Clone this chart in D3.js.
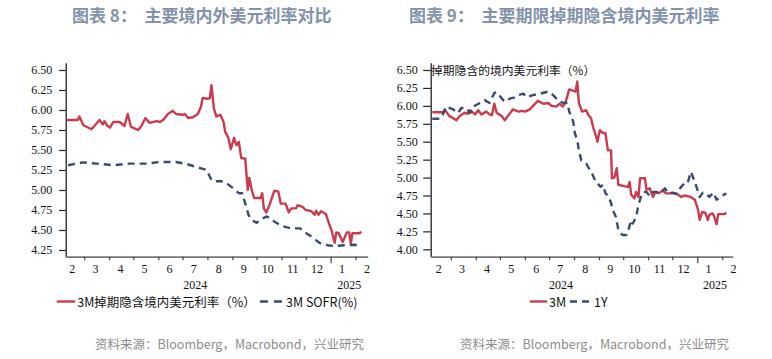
<!DOCTYPE html>
<html><head><meta charset="utf-8">
<script src="https://cdn.jsdelivr.net/npm/d3@7"></script>
<style>body{margin:0;background:#fff}svg{display:block}</style>
</head><body>
<svg id="c" width="772" height="359"></svg>
<script>
// ---------- DATA ----------
const monthLabels = ["2","3","4","5","6","7","8","9","10","11","12","1","2"];
const yearLabels = ["2024","2025"];
const yTicksLeft = [6.50,6.25,6.00,5.75,5.50,5.25,5.00,4.75,4.50,4.25];
const yTicksRight = [6.50,6.25,6.00,5.75,5.50,5.25,5.00,4.75,4.50,4.25,4.00];

const leftSeriesNames = ["3M掉期隐含境内美元利率（%）","3M SOFR(%)"];
const rightSeriesNames = ["3M","1Y"];

// 3M swap-implied onshore USD rate (left chart)
const implied3M = [
 ["2024-02-08",5.875],["2024-02-22",5.875],["2024-02-24",5.92],["2024-02-29",5.81],["2024-03-10",5.76],
 ["2024-03-20",5.875],["2024-03-24",5.82],["2024-03-26",5.86],["2024-03-30",5.80],["2024-04-02",5.78],
 ["2024-04-06",5.85],["2024-04-14",5.85],["2024-04-20",5.80],["2024-04-24",5.95],["2024-04-28",5.79],
 ["2024-05-07",5.75],["2024-05-11",5.80],["2024-05-16",5.90],["2024-05-21",5.84],["2024-05-30",5.86],
 ["2024-06-03",5.85],["2024-06-07",5.875],["2024-06-13",5.95],["2024-06-19",5.99],["2024-06-23",5.95],
 ["2024-07-01",5.94],["2024-07-04",5.95],["2024-07-08",5.90],["2024-07-14",5.91],["2024-07-20",5.95],
 ["2024-07-24",6.04],["2024-07-26",6.15],["2024-08-01",6.14],["2024-08-04",6.15],["2024-08-06",6.31],
 ["2024-08-09",6.02],["2024-08-12",5.92],["2024-08-17",5.94],["2024-08-21",5.85],["2024-08-23",5.73],
 ["2024-08-27",5.65],["2024-08-30",5.51],["2024-09-03",5.65],["2024-09-06",5.56],["2024-09-09",5.60],
 ["2024-09-12",5.40],["2024-09-17",5.39],["2024-09-20",5.00],["2024-09-22",5.15],["2024-09-25",5.00],
 ["2024-09-28",4.90],["2024-10-06",4.90],["2024-10-08",4.96],["2024-10-10",4.77],["2024-10-13",4.72],
 ["2024-10-17",4.81],["2024-10-23",4.99],["2024-10-28",4.98],["2024-10-31",4.83],["2024-11-06",4.83],
 ["2024-11-10",4.72],["2024-11-13",4.77],["2024-11-19",4.77],["2024-11-21",4.81],["2024-11-27",4.79],
 ["2024-12-01",4.75],["2024-12-08",4.735],["2024-12-12",4.69],["2024-12-14",4.74],["2024-12-17",4.69],
 ["2024-12-20",4.735],["2024-12-26",4.70],["2024-12-30",4.58],["2025-01-02",4.50],["2025-01-06",4.34],
 ["2025-01-08",4.47],["2025-01-11",4.46],["2025-01-16",4.35],["2025-01-21",4.47],["2025-01-24",4.47],
 ["2025-01-26",4.33],["2025-01-28",4.46],["2025-02-06",4.46],["2025-02-08",4.48]
];
// 3M SOFR (left chart)
const sofr3M = [
 ["2024-02-10",5.31],["2024-02-29",5.345],["2024-03-16",5.33],["2024-04-06",5.31],["2024-04-26",5.33],
 ["2024-05-17",5.33],["2024-06-03",5.35],["2024-06-23",5.35],["2024-07-06",5.325],["2024-07-14",5.30],
 ["2024-07-24",5.27],["2024-07-31",5.25],["2024-08-06",5.125],["2024-08-08",5.11],["2024-08-18",5.11],
 ["2024-08-26",5.075],["2024-09-01",5.03],["2024-09-09",4.96],["2024-09-13",4.96],["2024-09-17",4.83],
 ["2024-09-21",4.69],["2024-09-25",4.625],["2024-10-01",4.59],["2024-10-06",4.635],["2024-10-14",4.67],
 ["2024-10-24",4.60],["2024-11-01",4.55],["2024-11-13",4.52],["2024-11-24",4.52],["2024-11-30",4.47],
 ["2024-12-08",4.42],["2024-12-18",4.34],["2024-12-28",4.31],["2025-01-05",4.30],["2025-01-18",4.31],
 ["2025-01-28",4.315],["2025-02-06",4.31]
];
// 3M tenor (right chart)
const tenor3M = [
 ["2024-02-07",5.91],["2024-02-20",5.91],["2024-02-23",5.94],["2024-02-28",5.86],["2024-03-08",5.80],
 ["2024-03-12",5.86],["2024-03-18",5.905],["2024-03-22",5.89],["2024-03-25",5.94],["2024-03-31",5.88],
 ["2024-04-04",5.94],["2024-04-08",5.88],["2024-04-14",5.92],["2024-04-18",5.88],["2024-04-21",5.87],
 ["2024-04-24",6.03],["2024-04-27",5.90],["2024-05-03",5.86],["2024-05-07",5.80],["2024-05-11",5.86],
 ["2024-05-17",5.95],["2024-05-24",5.92],["2024-05-28",5.93],["2024-06-01",5.92],["2024-06-07",5.95],
 ["2024-06-11",6.00],["2024-06-17",6.07],["2024-06-24",6.03],["2024-06-30",6.04],["2024-07-04",6.00],
 ["2024-07-10",5.99],["2024-07-14",6.03],["2024-07-18",5.99],["2024-07-22",6.07],["2024-07-26",6.23],
 ["2024-08-03",6.20],["2024-08-05",6.34],["2024-08-07",6.04],["2024-08-11",5.92],["2024-08-16",5.94],
 ["2024-08-19",5.87],["2024-08-22",5.83],["2024-08-25",5.69],["2024-08-28",5.59],["2024-08-30",5.50],
 ["2024-09-02",5.66],["2024-09-06",5.62],["2024-09-09",5.62],["2024-09-12",5.38],["2024-09-16",5.38],
 ["2024-09-17",4.99],["2024-09-20",5.00],["2024-09-23",5.13],["2024-09-25",4.90],["2024-10-02",4.88],
 ["2024-10-07",4.87],["2024-10-09",4.94],["2024-10-11",4.76],["2024-10-15",4.71],["2024-10-17",4.80],
 ["2024-10-20",4.73],["2024-10-22",4.99],["2024-10-28",4.99],["2024-10-30",4.83],["2024-11-03",4.85],
 ["2024-11-07",4.73],["2024-11-10",4.80],["2024-11-14",4.78],["2024-11-19",4.82],["2024-11-23",4.78],
 ["2024-11-30",4.78],["2024-12-06",4.78],["2024-12-12",4.73],["2024-12-16",4.75],["2024-12-20",4.74],
 ["2024-12-24",4.73],["2024-12-29",4.69],["2025-01-02",4.55],["2025-01-04",4.41],["2025-01-07",4.52],
 ["2025-01-11",4.51],["2025-01-14",4.41],["2025-01-16",4.48],["2025-01-20",4.50],["2025-01-22",4.46],
 ["2025-01-25",4.35],["2025-01-27",4.49],["2025-02-04",4.49],["2025-02-06",4.51]
];
// 1Y tenor (right chart)
const tenor1Y = [
 ["2024-02-07",5.82],["2024-02-16",5.82],["2024-02-20",5.88],["2024-02-24",5.99],["2024-03-04",5.95],
 ["2024-03-10",5.90],["2024-03-14",5.97],["2024-03-20",5.97],["2024-03-25",5.90],["2024-03-29",5.99],
 ["2024-04-06",6.04],["2024-04-12",6.08],["2024-04-18",6.04],["2024-04-24",6.18],["2024-04-27",6.19],
 ["2024-05-05",6.08],["2024-05-09",6.06],["2024-05-13",6.10],["2024-05-20",6.12],["2024-05-24",6.15],
 ["2024-05-30",6.17],["2024-06-03",6.12],["2024-06-11",6.15],["2024-06-20",6.17],["2024-06-30",6.20],
 ["2024-07-06",6.15],["2024-07-14",6.06],["2024-07-19",6.04],["2024-07-24",6.04],["2024-07-26",5.92],
 ["2024-07-31",5.78],["2024-08-02",5.62],["2024-08-05",5.52],["2024-08-07",5.38],["2024-08-10",5.24],
 ["2024-08-16",5.20],["2024-08-20",5.12],["2024-08-24",5.04],["2024-08-28",4.94],["2024-08-30",4.92],
 ["2024-09-03",4.87],["2024-09-06",4.90],["2024-09-09",4.78],["2024-09-13",4.74],["2024-09-16",4.64],
 ["2024-09-18",4.55],["2024-09-22",4.45],["2024-09-25",4.27],["2024-09-30",4.20],["2024-10-05",4.20],
 ["2024-10-08",4.29],["2024-10-11",4.41],["2024-10-13",4.36],["2024-10-17",4.45],["2024-10-20",4.62],
 ["2024-10-23",4.73],["2024-10-26",4.80],["2024-10-30",4.80],["2024-11-03",4.74],["2024-11-07",4.80],
 ["2024-11-11",4.80],["2024-11-15",4.78],["2024-11-22",4.85],["2024-11-26",4.78],["2024-12-02",4.79],
 ["2024-12-06",4.77],["2024-12-12",4.87],["2024-12-16",4.92],["2024-12-20",4.92],["2024-12-24",5.08],
 ["2024-12-29",4.94],["2025-01-04",4.73],["2025-01-08",4.79],["2025-01-12",4.78],["2025-01-16",4.73],
 ["2025-01-21",4.79],["2025-01-25",4.69],["2025-01-31",4.74],["2025-02-06",4.78]
];

// ---------- DRAW ----------
const RED = "#cc3a4e", NAVY = "#3c4b6b";
const svg = d3.select("#c");
const parse = d3.timeParse("%Y-%m-%d");
const serif = "'Liberation Serif','Times New Roman',serif";
const cjk = "'Noto Sans CJK SC','Noto Sans',sans-serif";

function panel(o){
  const top = 62.7, bottom = 256.7;
  const x = d3.scaleTime().domain([parse(o.start), parse(o.end)]).range([o.x0, o.x0 + 302]);
  const y0 = d3.scaleLinear().domain([o.yMin, 6.5]).range([o.yMinPx, 70]);
  const y = d3.scaleLinear().domain([y0.invert(bottom), y0.invert(top)]).range([bottom, top]);
  const g = svg.append("g");

  // y axis
  const ya = d3.axisLeft(y).tickValues(o.yTicks).tickFormat(d3.format(".2f")).tickSize(o.tick).tickPadding(o.pad).tickSizeOuter(0);
  const yg = g.append("g").attr("transform", `translate(${o.x0},0)`).call(ya);
  yg.select(".domain").attr("stroke", "#222").attr("stroke-width", 1.3);
  yg.selectAll(".tick line").attr("stroke", "#222").attr("stroke-width", 1.2);
  yg.selectAll(".tick text").attr("font-family", serif).attr("font-size", 12).attr("fill", "#111");

  // x axis
  const months = d3.timeMonth.range(d3.timeMonth.ceil(x.domain()[0]), x.domain()[1]);
  const xa = d3.axisBottom(x).tickValues(months).tickFormat("").tickSize(3.5).tickSizeOuter(0);
  const xg = g.append("g").attr("transform", `translate(0,${bottom})`).call(xa);
  xg.select(".domain").attr("stroke", "#777").attr("stroke-width", 1.8);
  xg.selectAll(".tick line").attr("stroke", "#444").attr("stroke-width", 1.2)
    .attr("y2", d => d.getMonth() === 0 ? 6.5 : 3.5);

  // month labels at mid-month
  const mids = [d3.timeMonth.floor(x.domain()[0]), ...months].map(m => new Date(m.getFullYear(), m.getMonth(), 15));
  g.selectAll(".ml").data(mids).join("text")
    .attr("x", d => x(d)).attr("y", 272.5).attr("text-anchor", "middle")
    .attr("font-family", serif).attr("font-size", 12).attr("fill", "#111")
    .text((d, i) => monthLabels[i]);

  // year labels
  const yb = new Date(2025, 0, 1);
  const yPos = [(x.range()[0] + x(yb)) / 2 - 3, (x(yb) + x.range()[1]) / 2];
  g.selectAll(".yl").data(yearLabels).join("text")
    .attr("x", (d, i) => yPos[i]).attr("y", 289).attr("text-anchor", "middle")
    .attr("font-family", serif).attr("font-size", 12).attr("fill", "#111").text(d => d);

  // lines
  const line = d3.line().x(d => x(parse(d[0]))).y(d => y(d[1]));
  o.series.forEach(s => {
    g.append("path").datum(s.data).attr("d", line).attr("fill", "none")
      .attr("stroke", s.color).attr("stroke-width", 2.4).attr("stroke-linejoin", "round")
      .attr("stroke-dasharray", s.dash || null);
  });

  // legend
  o.legend.forEach(l => {
    g.append("line").attr("x1", l.x).attr("x2", l.x + l.w).attr("y1", 301.5).attr("y2", 301.5)
      .attr("stroke", l.color).attr("stroke-width", 2.4).attr("stroke-dasharray", l.dash || null);
    g.append("text").attr("x", l.x + l.w + 2).attr("y", 306.5)
      .attr("font-family", cjk).attr("font-size", 12.5).attr("fill", "#111").text(l.text);
  });
  return g;
}

panel({
  x0: 65.7, start: "2024-02-07", end: "2025-02-16",
  yMin: 4.25, yMinPx: 250, yTicks: yTicksLeft, tick: 6.5, pad: 7,
  series: [{data: implied3M, color: RED}, {data: sofr3M, color: NAVY, dash: "7,5"}],
  legend: [{x: 56.7, w: 18.5, color: RED, text: leftSeriesNames[0]},
           {x: 260, w: 24, color: NAVY, dash: "8,6", text: leftSeriesNames[1]}]
});
const rp = panel({
  x0: 430.7, start: "2024-02-05", end: "2025-02-14",
  yMin: 4.00, yMinPx: 249.3, yTicks: yTicksRight, tick: 7.5, pad: 5.5,
  series: [{data: tenor3M, color: RED}, {data: tenor1Y, color: NAVY, dash: "7,5"}],
  legend: [{x: 530, w: 17, color: RED, text: rightSeriesNames[0]},
           {x: 570, w: 22, color: NAVY, dash: "7,5", text: rightSeriesNames[1]}]
});
rp.append("text").attr("x", 431).attr("y", 75).attr("font-family", cjk).attr("font-size", 11.8)
  .attr("fill", "#111").text("掉期隐含的境内美元利率（%）");

// titles
const tColor = "#8193aa";
svg.append("text").attr("x", 72).attr("y", 21.5).attr("font-family", cjk).attr("font-weight", "bold")
  .attr("font-size", 17).attr("fill", tColor).attr("xml:space", "preserve").text("图表 8：  主要境内外美元利率对比");
svg.append("text").attr("x", 409).attr("y", 21.5).attr("font-family", cjk).attr("font-weight", "bold")
  .attr("font-size", 17).attr("fill", tColor).attr("xml:space", "preserve").text("图表 9：  主要期限掉期隐含境内美元利率");

// sources
[95, 460].forEach(sx => {
  svg.append("text").attr("x", sx).attr("y", 349).attr("font-family", cjk).attr("font-size", 12.5)
    .attr("fill", "#8c8c8c").text("资料来源：Bloomberg，Macrobond，兴业研究");
});
</script>
</body></html>
